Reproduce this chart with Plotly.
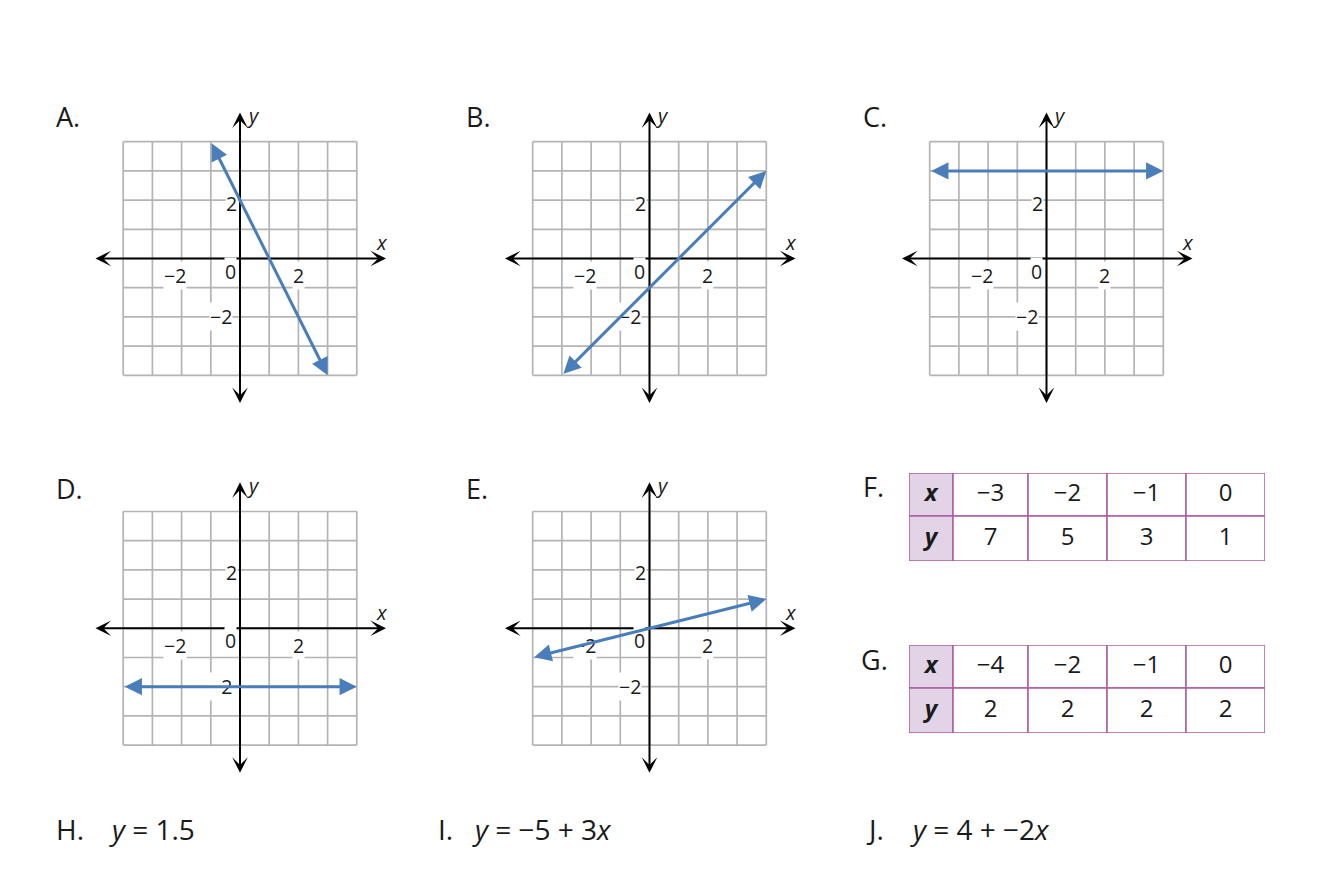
import plotly.graph_objects as go

W, H = 1340, 872
OFF = 8  # page body margin around the figure
FONT = "Open Sans"
BLUE = "#4a7ebb"
GRID = "#b4b4b4"
PURPLE_FILL = "#e2d4e6"
PURPLE_LINE = "#ad5ca3"
TXT = "#1a1a1a"

# ---- data ----
panel_names = ["A", "B", "C", "D", "E"]
grid_vals = [-4, -3, -2, -1, 0, 1, 2, 3, 4]
axis_extent = 5
x_tick_vals = [-2, 2]
y_tick_vals = [2, -2]

lineA_x = [-1, 3]
lineA_y = [4, -4]
lineB_x = [-3, 4]
lineB_y = [-4, 3]
lineC_x = [-4, 4]
lineC_y = [3, 3]
lineD_x = [-4, 4]
lineD_y = [-2, -2]
lineE_x = [-4, 4]
lineE_y = [-1, 1]

table_names = ["F", "G"]
tableF_x = ["−3", "−2", "−1", "0"]
tableF_y = ["7", "5", "3", "1"]
tableG_x = ["−4", "−2", "−1", "0"]
tableG_y = ["2", "2", "2", "2"]

eq_labels = ["H.", "I.", "J."]
eq_texts = ["<i>y</i> = 1.5", "<i>y</i> = −5 + 3<i>x</i>", "<i>y</i> = 4 + −2<i>x</i>"]

lines = {"A": (lineA_x, lineA_y), "B": (lineB_x, lineB_y), "C": (lineC_x, lineC_y),
         "D": (lineD_x, lineD_y), "E": (lineE_x, lineE_y)}
tables = {"F": (tableF_x, tableF_y), "G": (tableG_x, tableG_y)}

# ---- layout geometry (screen pixels) ----
def px_x(p):
    return (p - OFF) / W

def px_y(p):
    return 1 - (p - OFF) / H

UNIT = 29.2
HALF = 5.5
centers = {"A": (240, 258.5), "B": (649.5, 258.5), "C": (1046.5, 258.5),
           "D": (240, 628.3), "E": (649.5, 628.3)}
letter_pos = {"A": (54, 116), "B": (464, 116), "C": (861, 116),
              "D": (54, 488), "E": (464, 488), "F": (861, 487), "G": (859, 659)}

fig = go.Figure()
layout_axes = {}
annotations = []
shapes = []

tick_font = dict(family=FONT, size=19.5, color=TXT)
name_font = dict(family=FONT, size=20, color=TXT)

for i, name in enumerate(panel_names):
    k = "" if i == 0 else str(i + 1)
    xr, yr = "x" + k, "y" + k
    cx, cy = centers[name]
    half_px = HALF * UNIT
    layout_axes["xaxis" + k] = dict(domain=[px_x(cx - half_px), px_x(cx + half_px)],
                                    range=[-HALF, HALF], visible=False,
                                    fixedrange=True, anchor=yr)
    layout_axes["yaxis" + k] = dict(domain=[px_y(cy + half_px), px_y(cy - half_px)],
                                    range=[-HALF, HALF], visible=False,
                                    fixedrange=True, anchor=xr)

    # grid
    gx, gy = [], []
    lo, hi = grid_vals[0], grid_vals[-1]
    for v in grid_vals:
        gx += [v, v, None, lo, hi, None]
        gy += [lo, hi, None, v, v, None]
    fig.add_trace(go.Scatter(x=gx, y=gy, mode="lines", xaxis=xr, yaxis=yr,
                             line=dict(color=GRID, width=1.7), hoverinfo="skip",
                             showlegend=False))

    # axes with arrows
    for (x0, y0, x1, y1) in [(-axis_extent, 0, axis_extent, 0),
                             (0, -axis_extent, 0, axis_extent)]:
        annotations.append(dict(x=x1, y=y1, ax=x0, ay=y0, xref=xr, yref=yr,
                                axref=xr, ayref=yr, text="", showarrow=True, arrowhead=3,
                                arrowside="end+start", arrowwidth=2, arrowsize=1.3,
                                arrowcolor="black"))

    # tick labels
    for v in x_tick_vals:
        if v < 0:
            annotations.append(dict(x=v + 0.2, y=-0.58, xref=xr, yref=yr, text="−" + str(-v),
                                    showarrow=False, xanchor="right", yanchor="middle",
                                    font=tick_font, bgcolor="white", borderpad=0))
        else:
            annotations.append(dict(x=v, y=-0.58, xref=xr, yref=yr, text=str(v),
                                    showarrow=False, xanchor="center", yanchor="middle",
                                    font=tick_font, bgcolor="white", borderpad=0))
    for v in y_tick_vals:
        if v < 0:
            annotations.append(dict(x=-0.25, y=v, xref=xr, yref=yr, text="−" + str(-v),
                                    showarrow=False, xanchor="right", yanchor="middle",
                                    font=tick_font, bgcolor="white", borderpad=0))
        else:
            annotations.append(dict(x=-0.08, y=v - 0.1, xref=xr, yref=yr, text=str(v),
                                    showarrow=False, xanchor="right", yanchor="middle",
                                    font=tick_font, bgcolor="white", borderpad=0))
    annotations.append(dict(x=-0.34, y=-0.43, xref=xr, yref=yr, text="0",
                            showarrow=False, xanchor="center", yanchor="middle",
                            font=tick_font, bgcolor="white", borderpad=0))
    annotations.append(dict(x=4.85, y=0.55, xref=xr, yref=yr, text="<i>x</i>",
                            showarrow=False, xanchor="center", yanchor="middle",
                            font=name_font))
    annotations.append(dict(x=0.45, y=4.9, xref=xr, yref=yr, text="<i>y</i>",
                            showarrow=False, xanchor="center", yanchor="middle",
                            font=name_font))

    # blue line with arrows at both ends
    lx, ly = lines[name]
    annotations.append(dict(x=lx[1], y=ly[1], ax=lx[0], ay=ly[0], xref=xr, yref=yr,
                            axref=xr, ayref=yr, text="", showarrow=True, arrowhead=2,
                            arrowside="end+start", arrowwidth=3, arrowsize=1.15,
                            arrowcolor=BLUE))

# ---- tables F and G (drawn on their own hidden axes) ----
col_edges = [0, 44, 119, 198, 277, 356]
row_edges = [0, 43, 88]
table_box = {"F": (909, 473), "G": (909, 645)}

for j, tname in enumerate(table_names):
    n = len(panel_names) + 1 + j
    k = str(n)
    xr, yr = "x" + k, "y" + k
    left, top = table_box[tname]
    layout_axes["xaxis" + k] = dict(domain=[px_x(left), px_x(left + col_edges[-1])],
                                    range=[0, col_edges[-1]], visible=False,
                                    fixedrange=True, anchor=yr)
    layout_axes["yaxis" + k] = dict(domain=[px_y(top + row_edges[-1]), px_y(top)],
                                    range=[row_edges[-1], 0], visible=False,
                                    fixedrange=True, anchor=xr)
    xs, ys = tables[tname]
    row_texts = [["<b><i>x</i></b>"] + xs, ["<b><i>y</i></b>"] + ys]
    tx, ty, tt = [], [], []
    for r in range(2):
        for c in range(len(col_edges) - 1):
            shapes.append(dict(type="rect", xref=xr, yref=yr,
                               x0=col_edges[c], x1=col_edges[c + 1],
                               y0=row_edges[r], y1=row_edges[r + 1],
                               fillcolor=PURPLE_FILL if c == 0 else "white",
                               line=dict(color=PURPLE_LINE, width=1.5), layer="below"))
            tx.append((col_edges[c] + col_edges[c + 1]) / 2)
            ty.append((row_edges[r] + row_edges[r + 1]) / 2)
            tt.append(row_texts[r][c])
    fig.add_trace(go.Scatter(x=tx, y=ty, text=tt, mode="text", xaxis=xr, yaxis=yr,
                             textposition="middle center", hoverinfo="skip",
                             textfont=dict(family=FONT, size=24, color=TXT),
                             showlegend=False, cliponaxis=False))

# ---- panel letters ----
for name, (px, py) in letter_pos.items():
    annotations.append(dict(x=px_x(px), y=px_y(py), xref="paper", yref="paper",
                            text=name + ".", showarrow=False, xanchor="left",
                            yanchor="middle", font=dict(family=FONT, size=27, color=TXT)))

# ---- equations ----
eq_label_x = [54, 436, 864]
eq_text_x = [107, 470, 908]
for lbl, t, lx_, tx_ in zip(eq_labels, eq_texts, eq_label_x, eq_text_x):
    annotations.append(dict(x=px_x(lx_), y=px_y(829), xref="paper", yref="paper",
                            text=lbl, showarrow=False, xanchor="left", yanchor="middle",
                            font=dict(family=FONT, size=28, color=TXT)))
    annotations.append(dict(x=px_x(tx_), y=px_y(829), xref="paper", yref="paper",
                            text=t, showarrow=False, xanchor="left", yanchor="middle",
                            font=dict(family=FONT, size=28, color=TXT)))

fig.update_layout(width=W, height=H, margin=dict(l=0, r=0, t=0, b=0),
                  paper_bgcolor="white", plot_bgcolor="white", showlegend=False,
                  annotations=annotations, shapes=shapes, **layout_axes)

fig.write_html("out.html")
